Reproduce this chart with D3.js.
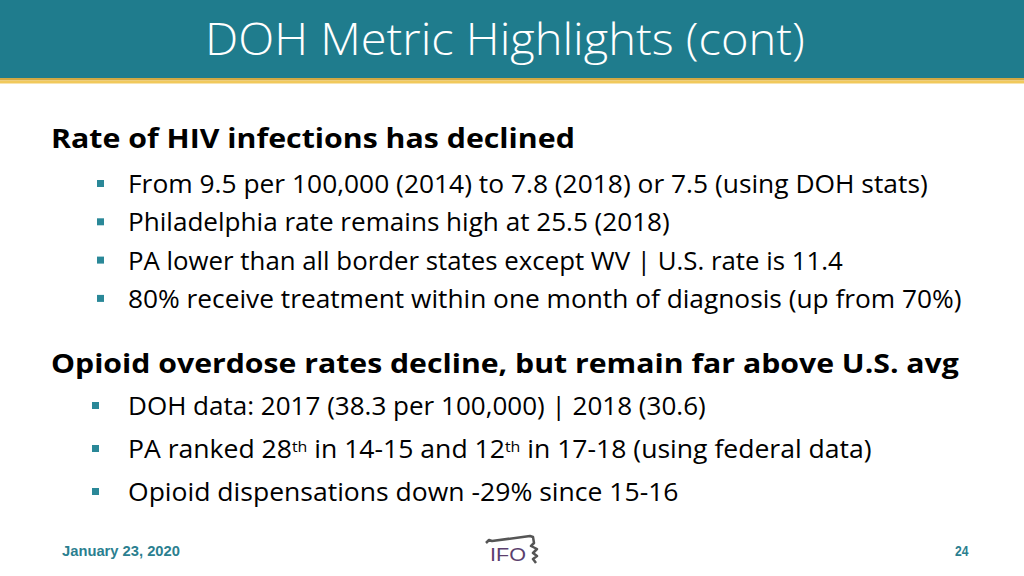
<!DOCTYPE html>
<html><head><meta charset="utf-8">
<script src="https://cdn.jsdelivr.net/npm/d3@7"></script>
<style>html,body{margin:0;padding:0;background:#fff;overflow:hidden}</style>
</head><body>
<script>
const slideTitle = "DOH Metric Highlights (cont)";
const headings = ["Rate of HIV infections has declined", "Opioid overdose rates decline, but remain far above U.S. avg"];
const hivBullets = [
  [["From 9.5 per 100,000 (2014) to 7.8 (2018) or 7.5 (using DOH stats)", 0]],
  [["Philadelphia rate remains high at 25.5 (2018)", 0]],
  [["PA lower than all border states except WV | U.S. rate is 11.4", 0]],
  [["80% receive treatment within one month of diagnosis (up from 70%)", 0]]
];
const opioidBullets = [
  [["DOH data: 2017 (38.3 per 100,000) | 2018 (30.6)", 0]],
  [["PA ranked 28", 0], ["th", 1], [" in 14-15 and 12", 0], ["th", 1], [" in 17-18 (using federal data)", 0]],
  [["Opioid dispensations down -29% since 15-16", 0]]
];
const footerDate = "January 23, 2020";
const pageNumber = "24";
const logoText = "IFO";

const hivWidths = [800, 542, 715, 834];
const opioidWidths = [578, 744, 551];
const headingWidths = [524, 909];

const W = 1024, H = 576;
const svg = d3.select("body").append("svg").attr("width", W).attr("height", H);

svg.append("rect").attr("width", W).attr("height", H).attr("fill", "#ffffff");
// header band
svg.append("rect").attr("x", 0).attr("y", 0).attr("width", W).attr("height", 78).attr("fill", "#1f7c8d");
svg.append("rect").attr("x", 0).attr("y", 78).attr("width", W).attr("height", 2.5).attr("fill", "#d2a843");
svg.append("rect").attr("x", 0).attr("y", 80.5).attr("width", W).attr("height", 3).attr("fill", "#f1c95c");

function fitText(sel, x, y, target) {
  const node = sel.node();
  const w = node.getBBox().width;
  const s = target / w;
  sel.attr("x", null).attr("y", null)
     .attr("transform", `translate(${x},${y}) scale(${s},1)`);
}

const title = svg.append("text")
  .attr("font-family", "'Open Sans', 'Noto Sans', sans-serif")
  .attr("font-weight", 300)
  .attr("font-size", 44)
  .attr("fill", "#ffffff")
  .text(slideTitle);
fitText(title, 205, 55, 600);

const headingBaselines = [148, 373];
const groups = [
  {items: hivBullets, widths: hivWidths, start: 193, step: 38.3, bx: 97},
  {items: opioidBullets, widths: opioidWidths, start: 415, step: 43, bx: 92}
];

headings.forEach((h, i) => {
  const t = svg.append("text")
    .attr("font-family", "'Open Sans', 'Noto Sans', sans-serif")
    .attr("font-weight", 700)
    .attr("font-size", 27.5)
    .attr("fill", "#000000")
    .text(h);
  fitText(t, 51, headingBaselines[i], headingWidths[i]);

  const g = groups[i];
  g.items.forEach((parts, j) => {
    const y = g.start + j * g.step;
    svg.append("rect").attr("x", g.bx).attr("y", y - 13).attr("width", 7).attr("height", 7).attr("fill", "#2a8898");
    const t2 = svg.append("text")
      .attr("font-family", "'Open Sans', 'Noto Sans', sans-serif")
      .attr("font-size", 25)
      .attr("fill", "#000000");
    parts.forEach(([txt, sup]) => {
      const ts = t2.append("tspan").text(txt);
      if (sup) ts.attr("font-size", 15).attr("baseline-shift", "38%");
    });
    const w = t2.node().getBBox().width;
    t2.attr("transform", `translate(128,${y}) scale(${g.widths[j] / w},1)`);
  });
});

// footer
const fd = svg.append("text")
  .attr("font-family", "'Liberation Sans Narrow', 'Liberation Sans', Arial, sans-serif")
  .attr("font-weight", 700).attr("font-size", 15).attr("fill", "#2b7f90")
  .text(footerDate);
fitText(fd, 62, 556, 118);
const pn = svg.append("text")
  .attr("font-family", "'Liberation Sans Narrow', 'Liberation Sans', Arial, sans-serif")
  .attr("font-weight", 700).attr("font-size", 15).attr("fill", "#2b7f90")
  .text(pageNumber);
fitText(pn, 955, 556, 14);

// logo
const logo = svg.append("g");
logo.append("path")
  .attr("d", "M486,543 L489,540 L492,541 L530,536 L533,537 L534,543 L531,546 L537,549 L533,553 L537,556 L533,559 L536,563")
  .attr("fill", "none").attr("stroke", "#555555").attr("stroke-width", 2.5).attr("stroke-linejoin", "round");
const lt = logo.append("text")
  .attr("font-family", "'Liberation Sans', Arial, sans-serif")
  .attr("font-size", 19).attr("fill", "#5b3f6e")
  .text(logoText);
fitText(lt, 490, 561, 36);
</script>
</body></html>
